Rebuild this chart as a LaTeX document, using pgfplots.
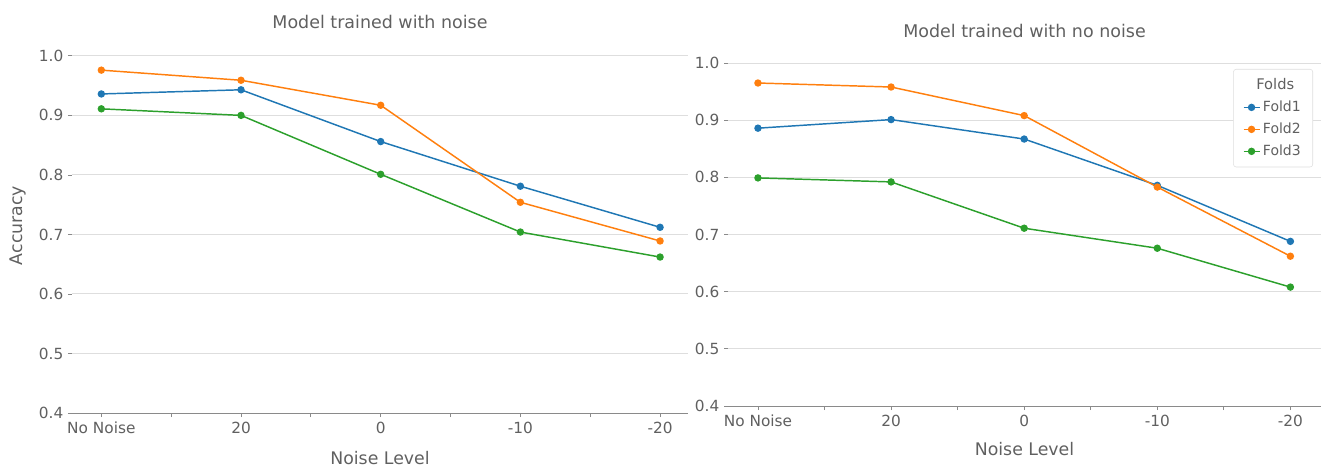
\documentclass[border=0pt]{standalone}
\usepackage{fontspec}
\setmainfont{DejaVu Sans}
\usepackage{pgfplots}
\pgfplotsset{compat=1.18}
\definecolor{tblue}{HTML}{1F77B4}
\definecolor{torange}{HTML}{FF7F0E}
\definecolor{tgreen}{HTML}{2CA02C}
\definecolor{txt}{HTML}{606060}
\definecolor{gridc}{HTML}{DEDEDE}
\definecolor{axc}{HTML}{8A8A8A}

\pgfplotstableread{
x f1 f2 f3
0 0.936 0.976 0.911
1 0.943 0.959 0.900
2 0.856 0.917 0.801
3 0.781 0.754 0.704
4 0.712 0.689 0.662
}\leftdata
\pgfplotstableread{
x f1 f2 f3
0 0.886 0.965 0.799
1 0.901 0.958 0.792
2 0.867 0.908 0.711
3 0.786 0.783 0.676
4 0.688 0.662 0.608
}\rightdata

\pgfplotsset{
 myax/.style={
  scale only axis,
  ymin=0.4,
  axis x line=bottom,
  axis y line=left,
  x axis line style={-, draw=axc, line width=0.7pt},
  y axis line style={-, draw=none},
  xtick={0,1,2,3,4},
  xticklabels={No Noise,20,0,-10,-20},
  minor xtick={0.5,1.5,2.5,3.5},
  ytick={0.4,0.5,0.6,0.7,0.8,0.9,1.0},
  yticklabel style={/pgf/number format/.cd, fixed, fixed zerofill, precision=1},
  /pgf/number format/assume math mode=true,
  tick label style={font=\fontsize{11.5}{13}\selectfont, text=txt},
  tick align=outside,
  major tick length=3pt,
  minor tick length=3pt,
  tick style={draw=axc, line width=0.6pt},
  ymajorgrids,
  grid style={draw=gridc, line width=0.7pt},
  title style={at={(axis description cs:0.5,1)}, yshift=6pt, anchor=center, font=\fontsize{13.1}{15}\selectfont, text=txt},
  every axis plot/.append style={line width=1.1pt, mark=*, mark size=2.2pt},
  legend image code/.code={\draw[mark repeat=2,mark phase=2,#1] plot coordinates {(0pt,0pt) (6pt,0pt) (12pt,0pt)};},
 }
}

\begin{document}
\begin{tikzpicture}
\useasboundingbox (0,0) rectangle (990.75pt,351pt);

\begin{axis}[myax,
  at={(54pt,41.25pt)}, anchor=south west,
  width=462pt, height=281.25pt,
  xmin=-0.21, xmax=4.2, ymax=1.03,
  title={Model trained with noise},
  xlabel={Noise Level},
  ylabel={Accuracy},
  every axis x label/.style={at={(axis description cs:0.5,0)}, yshift=-33.75pt, anchor=center, font=\fontsize{13}{15}\selectfont, text=txt},
  every axis y label/.style={at={(axis description cs:0,0.5)}, xshift=-40.5pt, rotate=90, anchor=center, font=\fontsize{13}{15}\selectfont, text=txt},
]
\addplot[tblue] table[x=x,y=f1]{\leftdata};
\addplot[torange] table[x=x,y=f2]{\leftdata};
\addplot[tgreen] table[x=x,y=f3]{\leftdata};
\end{axis}

\begin{axis}[myax,
  at={(546pt,46.5pt)}, anchor=south west,
  width=444.75pt, height=269.25pt,
  xmin=-0.225, xmax=4.23, ymax=1.028,
  title={Model trained with no noise},
  xlabel={Noise Level},
  every axis x label/.style={at={(axis description cs:0.5,0)}, yshift=-32.25pt, anchor=center, font=\fontsize{13}{15}\selectfont, text=txt},
  legend style={at={(1,1)}, anchor=north east, xshift=-6pt, yshift=-16.5pt, draw=gridc, rounded corners=2pt, font=\fontsize{10.5}{12.5}\selectfont, text=txt, row sep=3pt, inner xsep=7pt, inner ysep=5pt},
  legend cell align=left,
]
\addlegendimage{empty legend}
\addlegendentry{\hspace*{-5pt}\fontsize{11}{13}\selectfont Folds}
\addplot[tblue] table[x=x,y=f1]{\rightdata};
\addlegendentry{Fold1}
\addplot[torange] table[x=x,y=f2]{\rightdata};
\addlegendentry{Fold2}
\addplot[tgreen] table[x=x,y=f3]{\rightdata};
\addlegendentry{Fold3}
\end{axis}
\end{tikzpicture}
\end{document}
